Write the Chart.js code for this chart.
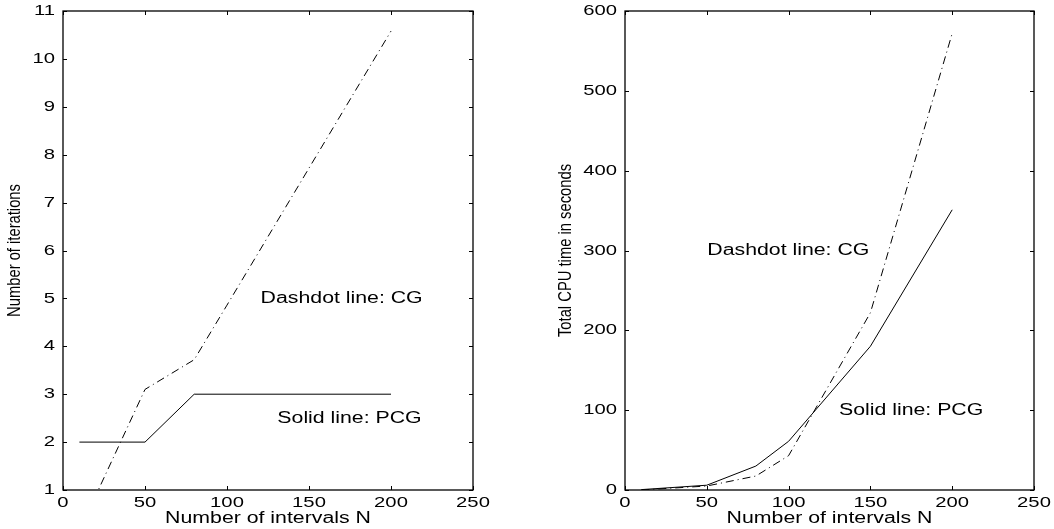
<!DOCTYPE html>
<html>
<head>
<meta charset="utf-8">
<script src="https://cdn.jsdelivr.net/npm/chart.js@4"></script>
<style>
  body { margin: 0; background: #fff; }
  .box { position: absolute; top: 0; width: 527px; height: 529px; }
  #left { left: 0; }
  #right { left: 527px; }
</style>
</head>
<body>
<div class="box" id="left"><canvas id="chart-1"></canvas></div>
<div class="box" id="right"><canvas id="chart-2"></canvas></div>
<script>
// values
const intervals = [10, 50, 80, 100, 150, 200];
const iterPCG = [2, 2, 3, 3, 3, 3];
const iterCG = [0.15, 3.1, 3.72, 4.86, 7.72, 10.58];
const cpuPCG = [0.5, 6, 30, 61, 180, 351];
const cpuCG = [0, 5, 17.5, 43, 222, 572];

const xTicks = [0, 50, 100, 150, 200, 250];
const iterTicks = [1, 2, 3, 4, 5, 6, 7, 8, 9, 10, 11];
const cpuTicks = [0, 100, 200, 300, 400, 500, 600];

const dashDot = [8, 4, 1, 4];
const sans = '"Liberation Sans", Arial, sans-serif';

const pts = (xs, ys) => xs.map((v, i) => ({ x: v, y: ys[i] }));

// the old figure has its text stretched sideways, so draw it scaled
function wideText(ctx, text, x, y, align, sx) {
    ctx.save();
    ctx.translate(x, y);
    ctx.scale(sx, 1);
    ctx.textAlign = align;
    ctx.fillText(text, 0, 0);
    ctx.restore();
}

// box round the plot, inward ticks, tick labels, notes and axis titles
const framePlugin = {
    id: 'frame',
    afterDraw(chart, args, opts) {
        const { ctx, chartArea: a, scales: { x, y } } = chart;
        ctx.save();
        ctx.strokeStyle = '#000';
        ctx.lineWidth = 1.3;
        ctx.strokeRect(a.left, a.top, a.right - a.left, a.bottom - a.top);
        ctx.lineWidth = 1;
        ctx.beginPath();
        x.ticks.forEach(t => {
            const px = Math.round(x.getPixelForValue(t.value)) + 0.5;
            ctx.moveTo(px, a.bottom); ctx.lineTo(px, a.bottom - 4);
            ctx.moveTo(px, a.top); ctx.lineTo(px, a.top + 4);
        });
        y.ticks.forEach(t => {
            const py = Math.round(y.getPixelForValue(t.value)) + 0.5;
            ctx.moveTo(a.left, py); ctx.lineTo(a.left + 4, py);
            ctx.moveTo(a.right, py); ctx.lineTo(a.right - 4, py);
        });
        ctx.stroke();

        ctx.fillStyle = '#000';
        ctx.textBaseline = 'middle';

        ctx.font = '15px ' + sans;
        x.ticks.forEach(t => {
            wideText(ctx, String(t.value), x.getPixelForValue(t.value), a.bottom + 13, 'center', 1.35);
        });
        y.ticks.forEach(t => {
            wideText(ctx, String(t.value), a.left - 8, y.getPixelForValue(t.value), 'right', 1.35);
        });

        ctx.font = '16px ' + sans;
        wideText(ctx, 'Number of intervals N', (a.left + a.right) / 2, a.bottom + 29, 'center', 1.33);
        opts.notes.forEach(n => {
            wideText(ctx, n.text, x.getPixelForValue(n.x), y.getPixelForValue(n.y), 'left', 1.33);
        });

        ctx.font = '18px ' + sans;
        ctx.translate(opts.titleX, (a.top + a.bottom) / 2);
        ctx.rotate(-Math.PI / 2);
        wideText(ctx, opts.title, 0, 0, 'center', 0.82);
        ctx.restore();
    }
};

function makeOptions(yMin, yMax, yTicks, padRight, yWidth, notes, title, titleX) {
    return {
        responsive: true,
        maintainAspectRatio: false,
        animation: false,
        layout: { padding: { top: 11, right: padRight, left: 0, bottom: 0 } },
        elements: { point: { radius: 0 }, line: { tension: 0 } },
        plugins: {
            legend: { display: false },
            tooltip: { enabled: false },
            frame: { notes: notes, title: title, titleX: titleX }
        },
        scales: {
            x: {
                type: 'linear',
                min: 0,
                max: 250,
                afterBuildTicks: s => { s.ticks = xTicks.map(v => ({ value: v })); },
                afterFit: s => { s.height = 39; },
                grid: { display: false, drawTicks: false },
                border: { display: false },
                ticks: { display: false }
            },
            y: {
                min: yMin,
                max: yMax,
                afterBuildTicks: s => { s.ticks = yTicks.map(v => ({ value: v })); },
                afterFit: s => { s.width = yWidth; },
                grid: { display: false, drawTicks: false },
                border: { display: false },
                ticks: { display: false }
            }
        }
    };
}

// Chart 1 (number of iterations)
new Chart(document.querySelector('#chart-1').getContext('2d'), {
    type: 'line',
    data: {
        datasets: [
            {
                label: 'PCG',
                data: pts(intervals, iterPCG),
                borderColor: '#000',
                borderWidth: 1
            },
            {
                label: 'CG',
                data: pts(intervals, iterCG),
                borderColor: '#000',
                borderWidth: 1,
                borderDash: dashDot
            }
        ]
    },
    options: makeOptions(1, 11, iterTicks, 54, 63, [
        { text: 'Dashdot line: CG', x: 120.5, y: 5.0 },
        { text: 'Solid line: PCG', x: 130.7, y: 2.49 }
    ], 'Number of iterations', 15),
    plugins: [framePlugin]
});

// Chart 2 (total CPU time)
new Chart(document.querySelector('#chart-2').getContext('2d'), {
    type: 'line',
    data: {
        datasets: [
            {
                label: 'PCG',
                data: pts(intervals, cpuPCG),
                borderColor: '#000',
                borderWidth: 1
            },
            {
                label: 'CG',
                data: pts(intervals, cpuCG),
                borderColor: '#000',
                borderWidth: 1,
                borderDash: dashDot
            }
        ]
    },
    options: makeOptions(0, 600, cpuTicks, 20, 98, [
        { text: 'Dashdot line: CG', x: 50.3, y: 300 },
        { text: 'Solid line: PCG', x: 130.8, y: 100 }
    ], 'Total CPU time in seconds', 39),
    plugins: [framePlugin]
});
</script>
</body>
</html>
